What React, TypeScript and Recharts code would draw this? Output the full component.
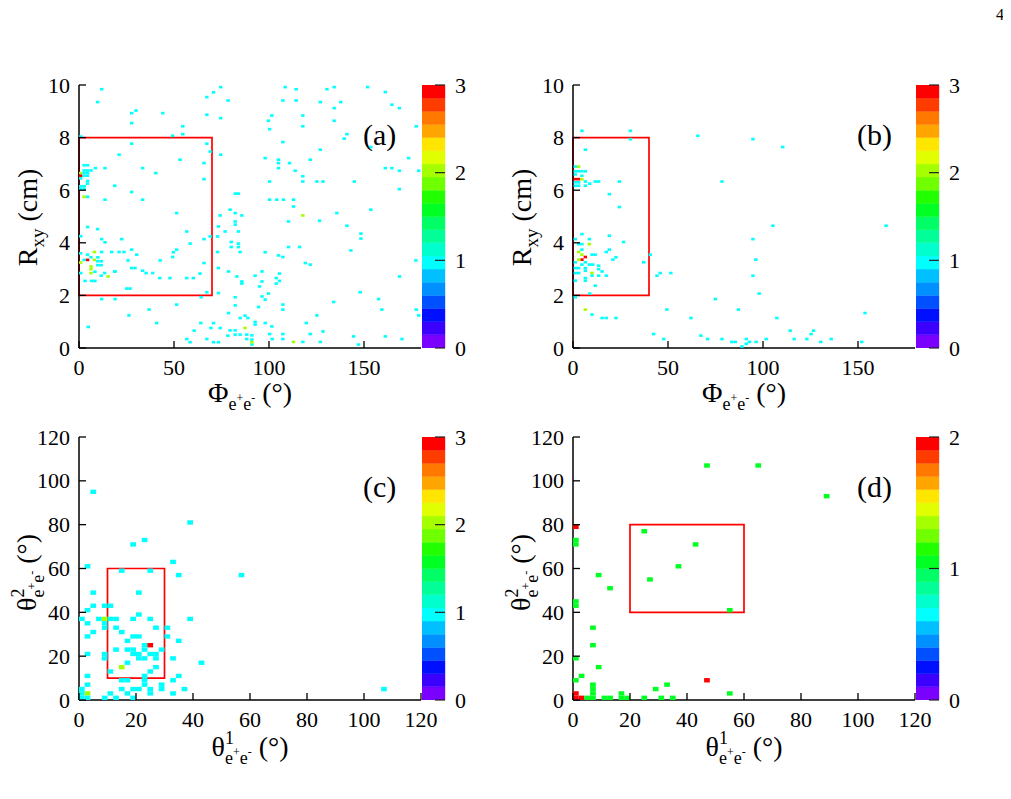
import React from 'react';
import { ScatterChart, Scatter, XAxis, YAxis, ReferenceArea, BarChart, Bar } from 'recharts';

type Cell = [number, number, number]; // x, y, entries

const SERIF = 'Liberation Serif';

// palette, bottom (0) to top (max), 20 contour levels
const palette = [
  '#7a00ff', '#3c00ff', '#0010ff', '#0050ff', '#0090ff', '#00c0ff', '#00ffff', '#00ffcc', '#00ff99', '#00ff66',
  '#00ff22', '#22ff00', '#70ff00', '#a6ff00', '#e0ff00', '#ffe600', '#ffa500', '#ff7800', '#ff3c00', '#ff0000',
];

const phiTicks = [0, 50, 100, 150];
const rTicks = [0, 2, 4, 6, 8, 10];
const thetaTicks = [0, 20, 40, 60, 80, 100, 120];
const zTicks3 = [0, 1, 2, 3];
const zTicks2 = [0, 1, 2];

// (a) R_xy vs Phi, all events
const cellsA: Cell[] = [
  [11.9, 9.84, 1], [9.8, 9.35, 1], [27.7, 8.93, 1], [30.0, 9.03, 1], [44.1, 8.93, 1], [27.7, 8.55, 1], [54.6, 8.43, 1],
  [54.6, 8.13, 1], [49.3, 8.07, 1], [67.3, 9.54, 1], [70.8, 9.72, 1], [74.6, 9.92, 1], [78.5, 9.41, 1], [67.3, 8.87, 1],
  [74.6, 8.74, 1], [1.0, 8.04, 1], [27.7, 7.77, 1], [21.1, 7.35, 1], [53.2, 7.16, 1], [65.8, 7.03, 1], [67.3, 7.77, 1],
  [69.0, 7.47, 1], [74.6, 7.35, 1], [33.5, 6.84, 1], [40.4, 6.65, 1], [13.7, 6.84, 1], [8.6, 6.84, 1], [18.8, 6.17, 1],
  [27.7, 5.93, 1], [33.5, 5.64, 1], [13.7, 5.64, 1], [65.8, 6.42, 1], [51.4, 5.13, 1],
  [2.7, 6.95, 1], [4.5, 6.95, 1], [0.9, 6.65, 2], [0.9, 6.55, 3], [2.7, 6.75, 1], [4.5, 6.75, 1], [2.7, 6.65, 1],
  [4.5, 6.65, 1], [6.3, 6.75, 1], [2.7, 6.55, 1], [4.5, 6.55, 1], [0.9, 6.45, 1], [4.5, 6.35, 1], [0.9, 6.15, 1],
  [2.7, 6.15, 1], [4.5, 6.25, 1], [0.9, 6.05, 1], [2.7, 6.05, 1], [2.7, 5.75, 2], [4.5, 5.75, 1],
  [0.9, 4.25, 1], [4.5, 4.6, 1], [9.8, 4.52, 1], [11.9, 4.14, 1], [13.7, 4.02, 1], [22.5, 4.14, 1],
  [8.1, 3.65, 2], [11.9, 3.65, 1], [17.2, 3.65, 1], [21.1, 3.65, 1], [23.7, 3.65, 1], [27.7, 3.74, 1],
  [30.4, 3.55, 1], [25.8, 3.33, 1], [27.7, 3.04, 1], [29.5, 3.04, 1], [33.5, 2.94, 1], [35.3, 2.85, 1], [38.8, 2.85, 1],
  [42.5, 2.66, 1], [47.9, 2.66, 1], [19.0, 2.91, 1], [56.7, 2.66, 1], [60.2, 2.66, 1], [63.7, 2.83, 1], [49.7, 3.64, 1],
  [51.4, 3.74, 1], [49.3, 3.46, 1], [42.7, 3.33, 1], [56.7, 4.43, 1], [58.5, 3.97, 1], [65.8, 4.14, 1], [65.8, 3.23, 1],
  [67.3, 2.12, 1], [64.3, 1.93, 1], [25.1, 2.26, 1], [26.9, 2.26, 1],
  [2.7, 3.35, 1], [4.5, 3.35, 3], [8.1, 3.35, 2], [0.9, 3.25, 2], [9.9, 3.45, 1], [9.9, 3.3, 1], [11.7, 3.3, 1],
  [6.3, 3.1, 2], [6.3, 3.0, 2], [6.3, 2.85, 2], [9.9, 3.15, 1], [11.7, 3.15, 1], [0.9, 2.85, 1], [8.4, 2.9, 1],
  [13.5, 2.85, 1], [11.7, 2.75, 1], [15.3, 2.72, 2], [18.8, 2.91, 1], [3.2, 2.55, 1], [6.6, 2.55, 1], [8.4, 2.55, 1],
  [0.9, 3.6, 1], [4.5, 3.55, 1], [6.3, 3.45, 1],
  [69.0, 4.24, 1], [72.9, 4.24, 1], [73.4, 4.62, 1], [74.3, 5.04, 1], [79.5, 5.26, 1], [82.2, 5.13, 1], [82.2, 4.81, 1],
  [82.2, 4.69, 1], [85.7, 5.04, 1], [83.9, 4.43, 1], [76.9, 4.43, 1], [80.1, 4.03, 1], [80.1, 3.84, 1], [83.9, 3.97, 1],
  [83.9, 3.84, 1], [72.9, 3.65, 1], [84.8, 3.65, 1], [73.4, 3.04, 1], [78.7, 2.91, 1], [83.1, 2.72, 1], [85.7, 2.53, 1],
  [85.7, 2.45, 1], [73.4, 2.09, 1], [82.2, 1.93, 1], [82.2, 1.62, 1], [78.7, 1.33, 1], [87.4, 1.23, 1], [88.9, 1.14, 1],
  [98.0, 3.64, 1], [96.3, 2.91, 1], [92.7, 2.75, 1], [95.0, 2.34, 1], [96.3, 2.53, 1], [99.7, 2.07, 1], [96.3, 1.96, 1],
  [98.0, 1.84, 1], [94.5, 1.56, 1], [105.5, 2.83, 1], [103.8, 2.66, 1], [103.8, 2.45, 1], [105.5, 2.55, 1], [107.3, 1.65, 1],
  [107.3, 1.46, 1], [105.0, 3.52, 1], [107.3, 3.46, 1], [110.3, 3.84, 1], [116.1, 3.84, 1], [119.1, 3.23, 1], [121.7, 3.17, 1],
  [126.6, 4.84, 1], [110.3, 4.81, 1], [117.8, 5.04, 2], [135.7, 5.13, 1], [141.0, 4.65, 1], [143.1, 3.71, 1], [148.4, 4.35, 1],
  [148.4, 4.16, 1], [153.6, 5.26, 1], [148.0, 2.12, 1], [157.7, 1.86, 1], [159.4, 1.46, 1], [134.0, 1.75, 1], [125.2, 1.24, 1],
  [119.6, 0.95, 1], [121.7, 0.53, 1], [128.4, 0.63, 1], [127.0, 0.23, 1], [117.8, 0.23, 1], [112.9, 0.23, 2], [107.3, 0.53, 1],
  [107.3, 0.34, 1], [101.7, 0.34, 1], [100.3, 0.53, 1], [101.5, 0.82, 1], [98.0, 0.95, 1], [92.7, 0.99, 1], [92.7, 0.89, 1],
  [91.0, 0.48, 1], [91.0, 0.32, 1], [91.0, 0.13, 1], [88.3, 0.51, 1], [88.3, 0.34, 1], [87.4, 0.76, 2], [91.0, 0.22, 2],
  [84.8, 0.51, 1], [84.8, 1.14, 1], [82.2, 0.67, 1], [82.2, 0.51, 1], [79.5, 0.67, 1], [78.3, 0.47, 1], [74.3, 0.76, 1],
  [70.8, 0.95, 1], [69.4, 0.76, 1], [64.1, 0.95, 1], [60.6, 0.66, 1], [56.7, 0.34, 1], [58.5, 0.22, 1], [70.8, 0.22, 1],
  [73.4, 0.22, 1], [67.3, 0.34, 1], [144.5, 0.44, 1], [147.1, 0.13, 1], [161.2, 0.44, 1], [170.0, 0.34, 1], [177.5, 1.46, 1],
  [178.8, 1.24, 1], [168.7, 2.72, 1], [177.3, 3.33, 1], [40.9, 0.95, 1], [36.9, 1.46, 1], [51.4, 1.65, 1], [26.3, 1.24, 1],
  [4.9, 0.8, 1], [11.9, 1.86, 1], [19.0, 1.86, 1],
  [99.7, 8.64, 1], [100.3, 8.32, 1], [101.5, 8.84, 1], [98.0, 7.22, 1], [100.3, 6.33, 1], [105.0, 7.16, 1], [105.0, 7.03, 1],
  [105.0, 6.84, 1], [107.3, 7.83, 1], [107.3, 9.41, 1], [108.5, 9.92, 1], [110.8, 7.03, 1], [113.8, 6.74, 1], [114.3, 9.84, 1],
  [114.3, 9.41, 1], [117.8, 8.84, 1], [117.8, 8.43, 1], [117.8, 6.53, 1], [117.8, 6.33, 1], [121.7, 7.16, 1], [125.2, 6.33, 1],
  [128.4, 6.33, 1], [127.0, 7.54, 1], [127.0, 9.35, 1], [130.5, 9.84, 1], [134.3, 9.92, 1], [134.3, 9.12, 1], [134.3, 8.64, 1],
  [137.8, 9.35, 1], [139.6, 7.96, 1], [141.0, 8.13, 1], [144.9, 6.33, 1], [151.9, 9.92, 1], [153.6, 7.64, 1], [161.2, 9.73, 1],
  [164.7, 9.25, 1], [168.6, 9.12, 1], [161.2, 6.84, 1], [164.7, 6.84, 1], [168.6, 6.74, 1], [168.6, 6.04, 1], [173.5, 7.22, 1],
  [177.5, 8.43, 1], [178.8, 6.74, 1], [104.1, 5.64, 1], [107.6, 5.64, 1], [112.9, 5.64, 1], [100.3, 5.64, 1], [112.9, 5.38, 1],
  [82.2, 5.87, 1], [83.9, 5.87, 1],
];

// (b) R_xy vs Phi, after selection
const cellsB: Cell[] = [
  [4.7, 8.26, 1], [30.2, 8.26, 1], [30.2, 7.94, 1], [65.7, 8.07, 1], [94.7, 7.94, 1], [110.4, 7.64, 1], [6.5, 7.54, 1],
  [1.2, 6.9, 1], [3.0, 6.9, 2], [1.2, 6.72, 1], [3.0, 6.72, 1], [4.7, 6.72, 1], [6.5, 6.72, 1], [1.2, 6.6, 1], [4.7, 6.55, 1],
  [1.2, 6.42, 3], [3.0, 6.42, 3], [4.7, 6.42, 2], [1.2, 6.3, 1], [3.0, 6.3, 1], [6.5, 6.33, 1], [8.8, 6.25, 1], [1.2, 6.17, 1],
  [3.0, 6.17, 1], [6.5, 6.17, 1], [11.7, 6.33, 1], [13.5, 6.33, 1], [24.4, 6.33, 1], [78.4, 6.33, 1], [19.1, 5.85, 1],
  [24.4, 5.36, 1], [105.2, 4.65, 1], [164.8, 4.65, 1], [94.7, 4.14, 1], [96.2, 3.36, 1], [94.7, 2.75, 1], [98.0, 2.07, 1],
  [4.7, 4.33, 1], [1.2, 4.14, 1], [8.6, 4.14, 1], [19.1, 4.27, 1], [26.6, 4.03, 1], [3.0, 3.95, 1], [4.7, 3.95, 1],
  [8.6, 3.95, 2], [3.0, 3.65, 2], [4.7, 3.74, 1], [17.5, 3.65, 1], [19.1, 3.74, 1], [22.6, 3.45, 1], [21.0, 3.36, 1],
  [4.7, 3.55, 2], [6.5, 3.46, 3], [4.7, 3.36, 3], [3.0, 3.36, 2], [1.2, 3.26, 1], [6.5, 3.26, 1], [10.0, 3.55, 1],
  [11.7, 3.55, 1], [4.7, 3.17, 1], [8.6, 3.17, 1], [10.4, 3.17, 1], [1.2, 3.04, 1], [3.0, 3.04, 1], [6.5, 3.04, 1],
  [6.5, 2.94, 1], [13.5, 3.13, 1], [13.5, 3.0, 1], [15.3, 2.91, 1], [10.0, 2.85, 2], [1.2, 2.85, 1], [3.0, 2.85, 1],
  [10.0, 2.75, 1], [13.5, 2.75, 1], [17.5, 2.75, 1], [6.5, 2.66, 1], [6.5, 2.56, 1], [1.2, 2.56, 1], [11.7, 2.37, 1],
  [8.8, 2.07, 1], [1.2, 1.93, 1], [37.2, 3.26, 1], [40.7, 3.55, 1], [44.2, 2.75, 1], [45.9, 2.85, 1], [51.5, 2.85, 1],
  [6.5, 1.46, 2], [10.0, 1.27, 1], [15.3, 1.14, 1], [17.5, 1.14, 1], [22.6, 1.14, 1], [49.4, 1.46, 1], [62.1, 1.14, 1],
  [74.9, 1.86, 1], [87.1, 1.46, 1], [107.3, 1.14, 1], [153.7, 1.33, 1], [42.4, 0.53, 1], [47.7, 0.34, 1], [67.3, 0.47, 1],
  [70.8, 0.34, 1], [78.4, 0.34, 1], [83.6, 0.23, 1], [85.4, 0.23, 1], [88.9, 0.06, 1], [91.2, 0.34, 1], [91.2, 0.16, 1],
  [92.9, 0.23, 1], [96.4, 0.23, 1], [101.7, 0.34, 1], [114.3, 0.66, 1], [116.4, 0.34, 1], [123.1, 0.34, 1], [125.3, 0.53, 1],
  [126.6, 0.66, 1], [130.4, 0.23, 1], [135.9, 0.34, 1], [152.0, 0.23, 1],
];

// (c) theta2 vs theta1, all events
const cellsC: Cell[] = [
  [5, 95, 1], [39, 81, 1], [19, 71, 1], [23, 73, 1], [33, 63, 1], [3, 61, 1], [15, 59, 1], [25, 59, 1], [35, 57, 1],
  [57, 57, 1], [5, 49, 1], [21, 49, 1], [5, 43, 1], [9, 43, 1], [11, 43, 1], [3, 41, 1], [21, 39, 1], [1, 37, 1], [7, 37, 1],
  [9, 37, 2], [11, 37, 1], [13, 37, 1], [19, 37, 1], [25, 37, 1], [39, 37, 1], [3, 35, 1], [9, 35, 1], [9, 33, 1], [13, 33, 1],
  [27, 33, 1], [31, 33, 1], [5, 31, 1], [15, 31, 1], [3, 29, 1], [19, 29, 1], [21, 29, 1], [31, 29, 1], [17, 27, 1], [35, 27, 1],
  [23, 25, 1], [25, 25, 3], [13, 23, 1], [17, 23, 1], [19, 23, 1], [23, 23, 1], [29, 23, 1], [3, 21, 1], [9, 21, 1], [19, 21, 1],
  [21, 21, 1], [25, 21, 1], [27, 21, 1], [9, 19, 1], [21, 19, 1], [23, 19, 1], [27, 19, 1], [33, 19, 1], [17, 17, 1], [43, 17, 1],
  [15, 15, 2], [27, 15, 1], [11, 13, 1], [25, 13, 1], [23, 11, 1], [35, 11, 1], [3, 11, 1], [15, 9, 1], [17, 9, 1], [23, 9, 1],
  [33, 9, 1], [3, 7, 1], [23, 7, 1], [29, 7, 1], [29, 5, 1], [1, 5, 1], [1, 3, 1], [15, 5, 1], [19, 5, 1], [21, 5, 1], [25, 5, 1],
  [37, 5, 1], [107, 5, 1], [3, 3, 2], [1, 1, 1], [3, 1, 1], [11, 3, 1], [17, 3, 1], [25, 3, 1], [33, 3, 1], [9, 1, 1],
  [13, 1, 1], [19, 1, 1],
];

// (d) theta2 vs theta1, after selection
const cellsD: Cell[] = [
  [47, 107, 1], [65, 107, 1], [89, 93, 1], [1, 79, 2], [1, 73, 1], [1, 71, 1], [25, 77, 1], [43, 71, 1], [37, 61, 1],
  [9, 57, 1], [27, 55, 1], [13, 51, 1], [1, 45, 1], [1, 43, 1], [55, 41, 1], [7, 33, 1], [7, 25, 1], [1, 19, 1], [9, 15, 1],
  [3, 11, 1], [1, 9, 1], [47, 9, 2], [33, 7, 1], [29, 5, 1], [7, 7, 1], [7, 5, 1], [7, 3, 1], [55, 3, 1], [1, 3, 2], [1, 1, 2],
  [3, 1, 2], [5, 1, 1], [7, 1, 1], [11, 1, 1], [13, 1, 1], [17, 3, 1], [17, 1, 1], [19, 1, 1], [25, 1, 1], [31, 1, 1], [35, 1, 1],
];

const PW = 342;
const PH = 263;
const TOP = 45;
const XAX_H = 87;
const CH = TOP + PH + XAX_H;
const RIGHT_PAD = 30;

const tickLineStyle = { stroke: '#000', strokeWidth: 1.3 };

const PhiTitle = ({ viewBox }: any) => {
  const cx = viewBox.x + viewBox.width / 2;
  return (
    <text x={cx} y={viewBox.y + 54} textAnchor="middle" fontFamily={SERIF} fontSize={28} fill="#000">
      Φ<tspan dy={8} fontSize={18}>e</tspan>
      <tspan dy={-8} fontSize={12}>+</tspan>
      <tspan dy={8} fontSize={18}>e</tspan>
      <tspan dy={-8} fontSize={12}>-</tspan>
      <tspan dx={7} fontSize={28}>(°)</tspan>
    </text>
  );
};

const ThetaText = ({ idx }: { idx: string }) => (
  <>
    θ<tspan dy={-12} fontSize={18}>{idx}</tspan>
    <tspan dx={-9} dy={20} fontSize={18}>e</tspan>
    <tspan dy={-8} fontSize={12}>+</tspan>
    <tspan dy={8} fontSize={18}>e</tspan>
    <tspan dy={-8} fontSize={12}>-</tspan>
    <tspan dx={7} fontSize={28}>(°)</tspan>
  </>
);

const ThetaXTitle = ({ viewBox }: any) => (
  <text x={viewBox.x + viewBox.width / 2} y={viewBox.y + 56} textAnchor="middle" fontFamily={SERIF} fontSize={28} fill="#000">
    <ThetaText idx="1" />
  </text>
);

const RTitle = ({ viewBox }: any) => {
  const x = viewBox.x + 37;
  const y = viewBox.y + viewBox.height / 2 + 1;
  return (
    <text x={x} y={y} transform={`rotate(-90 ${x} ${y})`} textAnchor="middle" fontFamily={SERIF} fontSize={28} fill="#000">
      R<tspan dy={7} fontSize={19}>xy</tspan>
      <tspan dy={-7} dx={7} fontSize={28}>(cm)</tspan>
    </text>
  );
};

const ThetaYTitle = ({ viewBox }: any) => {
  const x = viewBox.x + 36;
  const y = viewBox.y + viewBox.height / 2 + 4;
  return (
    <text x={x} y={y} transform={`rotate(-90 ${x} ${y})`} textAnchor="middle" fontFamily={SERIF} fontSize={28} fill="#000">
      <ThetaText idx="2" />
    </text>
  );
};

const BottomTick = (p: any) => (
  <g>
    <line x1={p.x} x2={p.x} y1={p.y} y2={p.y - 7} {...tickLineStyle} />
    <text x={p.x} y={p.y + 27} textAnchor="middle" fontFamily={SERIF} fontSize={22} fill="#000">{p.payload.value}</text>
  </g>
);
const TopTick = (p: any) => <line x1={p.x} x2={p.x} y1={p.y} y2={p.y + 7} {...tickLineStyle} />;
const LeftTick = (p: any) => (
  <g>
    <line x1={p.x} x2={p.x + 7} y1={p.y} y2={p.y} {...tickLineStyle} />
    <text x={p.x - 9} y={p.y + 7.5} textAnchor="end" fontFamily={SERIF} fontSize={22} fill="#000">{p.payload.value}</text>
  </g>
);
const RightTick = (p: any) => <line x1={p.x - 7} x2={p.x} y1={p.y} y2={p.y} {...tickLineStyle} />;
const ScaleTick = (p: any) => (
  <g>
    <line x1={p.x - 10} x2={p.x} y1={p.y} y2={p.y} stroke="#222" strokeWidth={1.2} />
    <text x={p.x + 10} y={p.y + 7.5} textAnchor="start" fontFamily={SERIF} fontSize={22} fill="#000">{p.payload.value}</text>
  </g>
);

interface PanelProps {
  cells: Cell[];
  xDomain: [number, number];
  yDomain: [number, number];
  xTicks: number[];
  yTicks: number[];
  binW: number;
  binH: number;
  zMax: number;
  zTicks: number[];
  box: { x1: number; x2: number; y1: number; y2: number };
  kind: 'r' | 'theta';
  ox: number;
  oy: number;
}

const axisLine = { stroke: '#000', strokeWidth: 1.5 };

const Panel: React.FC<PanelProps> = ({ cells, xDomain, yDomain, xTicks, yTicks, binW, binH, zMax, zTicks, box, kind, ox, oy }) => {
  const data = cells.map(([x, y, n]) => ({ x, y, n }));
  const w = (binW / (xDomain[1] - xDomain[0])) * PW;
  const h = (binH / (yDomain[1] - yDomain[0])) * PH;
  const step = zMax / palette.length;
  const colorFor = (n: number) => palette[Math.min(palette.length - 1, Math.floor(n / step + 1e-9))];
  const scaleRow: Record<string, number | string> = { name: 'z' };
  palette.forEach((_, i) => { scaleRow[`l${i}`] = step; });

  return (
    <>
      <div style={{ position: 'absolute', left: ox, top: oy + 40 }}>
        <ScatterChart width={79 + PW + RIGHT_PAD} height={CH} margin={{ top: TOP, right: RIGHT_PAD, bottom: 0, left: 0 }}>
          <XAxis xAxisId={0} type="number" dataKey="x" domain={xDomain} ticks={xTicks} interval={0} allowDataOverflow
            height={XAX_H} tickSize={0} tickMargin={0} tickLine={false} axisLine={axisLine} tick={BottomTick}
            label={kind === 'r' ? <PhiTitle /> : <ThetaXTitle />} />
          <XAxis xAxisId="top" orientation="top" type="number" domain={xDomain} ticks={xTicks} interval={0} allowDataOverflow
            height={0} tickSize={0} tickMargin={0} tickLine={false} axisLine={axisLine} tick={TopTick} />
          <YAxis yAxisId={0} type="number" dataKey="y" domain={yDomain} ticks={yTicks} interval={0} allowDataOverflow
            width={79} tickSize={0} tickMargin={0} tickLine={false} axisLine={axisLine} tick={LeftTick}
            label={kind === 'r' ? <RTitle /> : <ThetaYTitle />} />
          <YAxis yAxisId="right" orientation="right" type="number" domain={yDomain} ticks={yTicks} interval={0} allowDataOverflow
            width={0} tickSize={0} tickMargin={0} tickLine={false} axisLine={axisLine} tick={RightTick} />
          <Scatter data={data} isAnimationActive={false}
            shape={(p: any) => (
              <rect x={p.cx - w / 2} y={p.cy - h / 2} width={w} height={h} fill={colorFor(p.payload.n)} />
            )} />
          <ReferenceArea x1={box.x1} x2={box.x2} y1={box.y1} y2={box.y2} fill="none" fillOpacity={0}
            stroke="#ff0000" strokeWidth={1.7} ifOverflow="visible" />
        </ScatterChart>
      </div>
      <div style={{ position: 'absolute', left: ox + 422, top: oy + 40 }}>
        <BarChart width={70} height={CH} data={[scaleRow]} margin={{ top: TOP, right: 0, bottom: XAX_H, left: 0 }}
          barCategoryGap={0} barGap={0}>
          <XAxis dataKey="name" hide />
          <YAxis orientation="right" type="number" domain={[0, zMax]} ticks={zTicks} interval={0} allowDataOverflow
            width={47} axisLine={false} tickLine={false} tickSize={0} tickMargin={0} tick={ScaleTick} />
          {palette.map((c, i) => (
            <Bar key={c} dataKey={`l${i}`} stackId="z" fill={c} stroke={c} strokeWidth={0.4} isAnimationActive={false} />
          ))}
        </BarChart>
      </div>
    </>
  );
};

const panelLabels = ['(a)', '(b)', '(c)', '(d)'];
const origins: [number, number][] = [[0, 0], [494, 0], [0, 352], [494, 352]];

export default function App() {
  return (
    <div style={{ position: 'relative', width: 1011, height: 799, margin: -8, background: '#fff', overflow: 'hidden', fontFamily: SERIF }}>
      <Panel cells={cellsA} xDomain={[0, 180]} yDomain={[0, 10]} xTicks={phiTicks} yTicks={rTicks} binW={1.8} binH={0.1}
        zMax={3} zTicks={zTicks3} box={{ x1: 0, x2: 70, y1: 2, y2: 8 }} kind="r" ox={origins[0][0]} oy={origins[0][1]} />
      <Panel cells={cellsB} xDomain={[0, 180]} yDomain={[0, 10]} xTicks={phiTicks} yTicks={rTicks} binW={1.8} binH={0.1}
        zMax={3} zTicks={zTicks3} box={{ x1: 0, x2: 40, y1: 2, y2: 8 }} kind="r" ox={origins[1][0]} oy={origins[1][1]} />
      <Panel cells={cellsC} xDomain={[0, 120]} yDomain={[0, 120]} xTicks={thetaTicks} yTicks={thetaTicks} binW={2} binH={2}
        zMax={3} zTicks={zTicks3} box={{ x1: 10, x2: 30, y1: 10, y2: 60 }} kind="theta" ox={origins[2][0]} oy={origins[2][1]} />
      <Panel cells={cellsD} xDomain={[0, 120]} yDomain={[0, 120]} xTicks={thetaTicks} yTicks={thetaTicks} binW={2} binH={2}
        zMax={2} zTicks={zTicks2} box={{ x1: 20, x2: 60, y1: 40, y2: 80 }} kind="theta" ox={origins[3][0]} oy={origins[3][1]} />
      <svg width={1011} height={799} style={{ position: 'absolute', left: 0, top: 0, pointerEvents: 'none' }}>
        <text x={1000} y={20} textAnchor="middle" fontFamily={SERIF} fontSize={16} fill="#000">4</text>
        {panelLabels.map((t, i) => (
          <text key={t} x={origins[i][0] + 363} y={origins[i][1] + 145} fontFamily={SERIF} fontSize={30} fill="#000">{t}</text>
        ))}
      </svg>
    </div>
  );
}
